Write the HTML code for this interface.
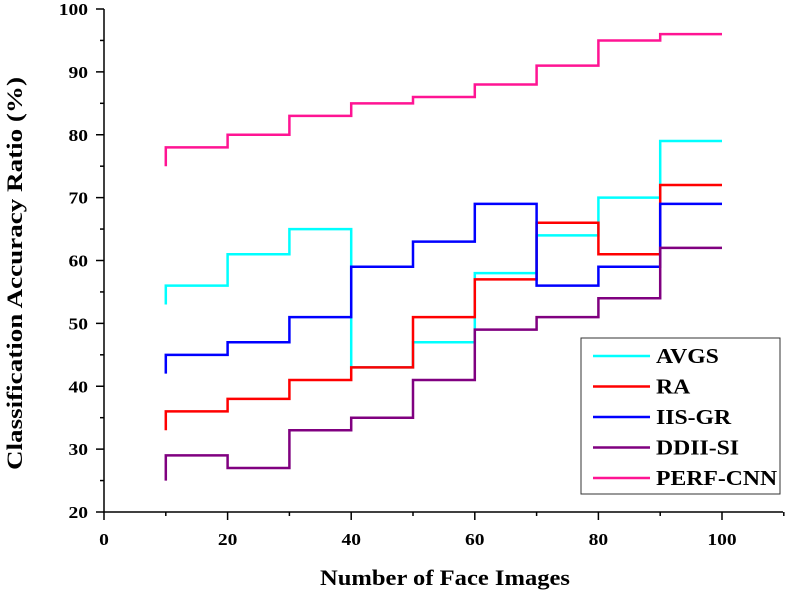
<!DOCTYPE html>
<html><head><meta charset="utf-8"><style>
body{margin:0;background:#fff;width:790px;height:592px;overflow:hidden}
svg{font-family:"Liberation Serif",serif;font-weight:bold}
</style></head><body>
<svg id="c" width="790" height="592"></svg>
<script>
const xs=[10,20,30,40,50,60,70,80,90];
const xEnd=100;
const avgsStart=53, avgs=[56,61,65,43,47,58,64,70,79];
const raStart=33, ra=[36,38,41,43,51,57,66,61,72];
const iisStart=42, iis=[45,47,51,59,63,69,56,59,69];
const ddiiStart=25, ddii=[29,27,33,35,41,49,51,54,62];
const perfStart=75, perf=[78,80,83,85,86,88,91,95,96];
const xTicks=[0,20,40,60,80,100];
const yTicks=[20,30,40,50,60,70,80,90,100];
const seriesNames=['AVGS','RA','IIS-GR','DDII-SI','PERF-CNN'];
const NS='http://www.w3.org/2000/svg';
const svg=document.getElementById('c');
const X=v=>104+v*6.18, Y=v=>512-(v-20)*6.2875;
function mk(t,a,p){const e=document.createElementNS(NS,t);for(const k in a)e.setAttribute(k,a[k]);(p||svg).appendChild(e);return e;}
const series=[[avgsStart,avgs,'#00ffff'],[raStart,ra,'#ff0000'],[iisStart,iis,'#0000ff'],[ddiiStart,ddii,'#800080'],[perfStart,perf,'#ff1493']];
series.forEach((s,i)=>{
  let d='M'+X(xs[0])+','+Y(s[0]);
  s[1].forEach((v,j)=>{d+=' L'+X(xs[j])+','+Y(v);const nx=j+1<xs.length?xs[j+1]:xEnd;d+=' L'+X(nx)+','+Y(v);});
  const p=mk('path',{d:d,fill:'none',stroke:s[2],'stroke-width':2.5});
  
  
});
const ax=mk('path',{d:'M104,9 L104,512 L783,512',fill:'none',stroke:'#000','stroke-width':1.5});


for(let v=0;v<=110;v+=10){const major=v%20==0;mk('line',{x1:X(v),x2:X(v),y1:512,y2:major?520:516,stroke:'#000','stroke-width':1.5});}
xTicks.forEach(v=>{const t=mk('text',{x:0,y:0,'text-anchor':'middle','font-size':17,transform:'translate('+X(v)+',545) scale(1.15,1)'});t.textContent=v;

});
for(let v=20;v<=100;v+=5){const major=v%10==0;mk('line',{x1:104,x2:major?96:100,y1:Y(v),y2:Y(v),stroke:'#000','stroke-width':1.5});}
yTicks.forEach(v=>{const t=mk('text',{x:0,y:0,'text-anchor':'end','font-size':17,transform:'translate(88,'+(Y(v)+6)+') scale(1.15,1)'});t.textContent=v;

});
const xt=mk('text',{x:320,y:585,'font-size':22,textLength:250,lengthAdjust:'spacingAndGlyphs'});xt.textContent='Number of Face Images';


const yt=mk('text',{x:-470,y:22,'font-size':22,textLength:393,lengthAdjust:'spacingAndGlyphs',transform:'rotate(-90)'});yt.textContent='Classification Accuracy Ratio (%)';


const lg=mk('g',{});


mk('rect',{x:581,y:338,width:199,height:156,fill:'#fff',stroke:'#333','stroke-width':1},lg);
series.forEach((s,i)=>{const y=356+i*30.5;
mk('line',{x1:593,x2:650,y1:y,y2:y,stroke:s[2],'stroke-width':2.5},lg);
const t=mk('text',{x:0,y:0,'font-size':21,transform:'translate(656,'+(y+7)+') scale(1.13,1)'},lg);t.textContent=seriesNames[i];

});
</script>
</body></html>
